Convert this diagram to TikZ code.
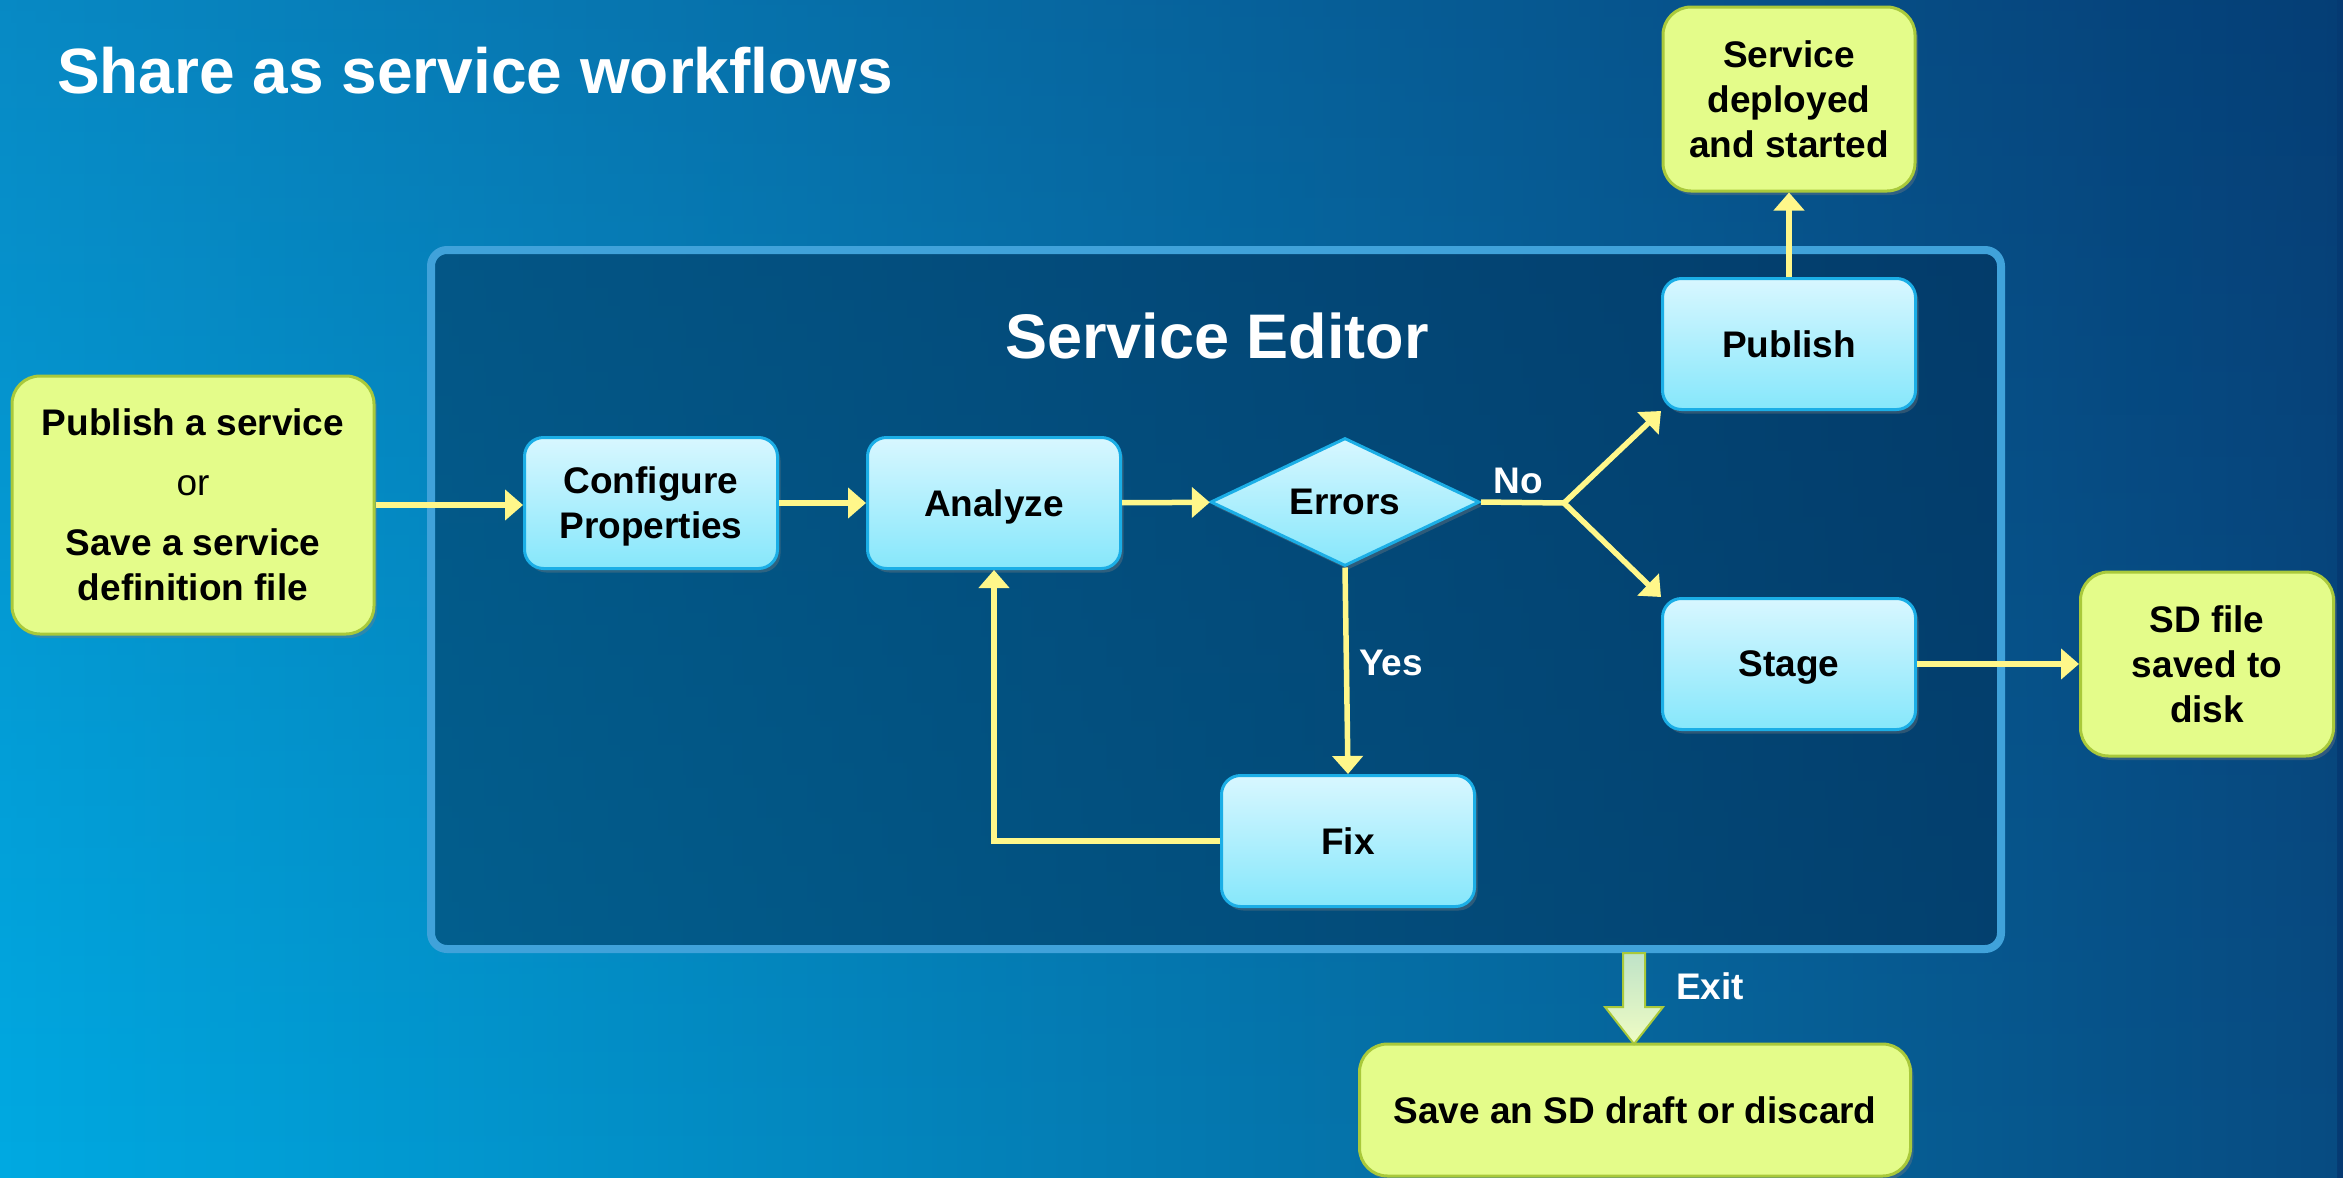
\documentclass[tikz,border=0pt]{standalone}
\usepackage{fontspec}
\setmainfont{Liberation Sans}
\usetikzlibrary{shapes.geometric,arrows.meta,shadows,fadings}

% backdrop: top row and bottom row of a two-way gradient
\definecolor{bgTL}{HTML}{0A80BC}
\definecolor{bgTM}{HTML}{0771AD}
\definecolor{bgTR}{HTML}{053A72}
\definecolor{bgBL}{HTML}{00AAE2}
\definecolor{bgBM}{HTML}{0A88C4}
\definecolor{bgBR}{HTML}{084C82}
\definecolor{frameedge}{HTML}{40A2DA}
\definecolor{frameinner}{HTML}{022C52}
\definecolor{boxtop}{HTML}{D8F7FF}
\definecolor{boxbottom}{HTML}{86E7FB}
\definecolor{boxedge}{HTML}{1BAEE6}
\definecolor{notefill}{HTML}{E4FC8A}
\definecolor{noteedge}{HTML}{A9C93B}
\definecolor{flow}{HTML}{FFF78A}
\definecolor{exittop}{HTML}{BFE3C8}
\definecolor{exitbottom}{HTML}{EFFCC4}

\begin{document}
\begin{tikzpicture}[x=1pt,y=-1pt,
  boxfont/.style={font=\fontsize{37}{45}\selectfont\bfseries, text depth=0pt},
  stepbox/.style={boxfont, draw=boxedge, line width=3pt, rounded corners=19pt,
    top color=boxtop, bottom color=boxbottom, text=black, align=center,
    minimum width=253pt, minimum height=131pt, inner sep=0pt,
    drop shadow={shadow xshift=3pt, shadow yshift=-4pt, opacity=0.35}},
  decision/.style={boxfont, diamond, aspect=2.1, draw=boxedge, line width=3pt,
    top color=boxtop, bottom color=boxbottom, text=black,
    minimum width=269pt, minimum height=128pt, inner sep=0pt,
    drop shadow={shadow xshift=3pt, shadow yshift=-4pt, opacity=0.35}},
  notebox/.style={boxfont, draw=noteedge, line width=3pt, rounded corners=28pt,
    fill=notefill, text=black, align=center, inner sep=0pt,
    drop shadow={shadow xshift=3pt, shadow yshift=-4pt, opacity=0.35}},
  editorframe/.style={draw=frameedge, line width=8pt, rounded corners=16pt,
    fill=frameinner, fill opacity=0.5, inner sep=0pt},
  flowarrow/.style={draw=flow, line width=5.5pt, -{Triangle[length=18pt,width=30pt]}},
  flowline/.style={draw=flow, line width=5.5pt},
  flowlabel/.style={font=\fontsize{37}{45}\selectfont\bfseries, text=white, anchor=base, inner sep=0pt},
  exitarrow/.style={draw=noteedge, line width=2pt, top color=exittop, bottom color=exitbottom}
]
\useasboundingbox (0,0) rectangle (2343,1178);

% background: dark-to-light across, brightening toward the bottom
\begin{scope}
  \clip (0,0) rectangle (2343,1178);
  \shade[left color=bgTL, middle color=bgTM, right color=bgTR] (0,0) rectangle (2343,1178);
  \shade[left color=bgBL, middle color=bgBM, right color=bgBR, path fading=north]
    (0,-350) rectangle (2343,1178);
\end{scope}

% title
\node[anchor=base west, text=white, inner sep=0pt, font=\fontsize{64}{70}\selectfont\bfseries]
  (title) at (57,93) {Share as service workflows};

% service editor frame
\node[editorframe, minimum width=1570pt, minimum height=699pt] (editor) at (1216,599.5) {};
\node[anchor=base, text=white, inner sep=0pt, font=\fontsize{63}{70}\selectfont\bfseries]
  (editortitle) at (1217,358) {Service Editor};

% steps
\node[notebox, minimum width=362pt, minimum height=258pt] (start) at (193,505)
  {Publish a service\\[15pt]{\mdseries or}\\[15pt]Save a service\\definition file};
\node[stepbox] (configure) at (651,503) {Configure\\Properties};
\node[stepbox] (analyze) at (994,503) {Analyze};
\node[decision] (errors) at (1345,502) {Errors};
\node[stepbox] (publish) at (1789,344) {Publish};
\node[stepbox] (stage) at (1789,664) {Stage};
\node[stepbox] (fix) at (1348,841) {Fix};
\node[notebox, minimum width=252pt, minimum height=184pt] (deployed) at (1789,99)
  {Service\\deployed\\and started};
\node[notebox, minimum width=253pt, minimum height=184pt] (sdfile) at (2207,664)
  {SD file\\saved to\\disk};
\node[notebox, minimum width=551pt, minimum height=132pt] (draft) at (1635,1110)
  {Save an SD draft or discard};

% connectors
\coordinate (split) at (1564,503);
\draw[flowarrow] (start.east |- 0,505) -- (configure.west |- 0,505);
\draw[flowarrow] (configure) -- (analyze);
\draw[flowarrow] (analyze) -- (errors);
\draw[flowline] (errors.east) -- (split);
\draw[flowarrow] (split) -- (publish.south west);
\draw[flowarrow] (split) -- (stage.north west);
\draw[flowarrow] (errors.south) -- (fix.north);
\draw[flowarrow] (fix.west) -| (analyze.south);
\draw[flowarrow] (publish) -- (deployed);
\draw[flowarrow] (stage) -- (sdfile);

\node[flowlabel] (nolabel) at (1518,493) {No};
\node[flowlabel] (yeslabel) at (1391,675) {Yes};

% exit block arrow
\coordinate (exittip) at (1634,1044);
\draw[exitarrow] (exittip) -- ++(29,-37) -- ++(-18,0) -- ++(0,-54) -- ++(-22,0)
  -- ++(0,54) -- ++(-18,0) -- cycle;
\node[flowlabel] (exitlabel) at (1710,999) {Exit};
\end{tikzpicture}
\end{document}
